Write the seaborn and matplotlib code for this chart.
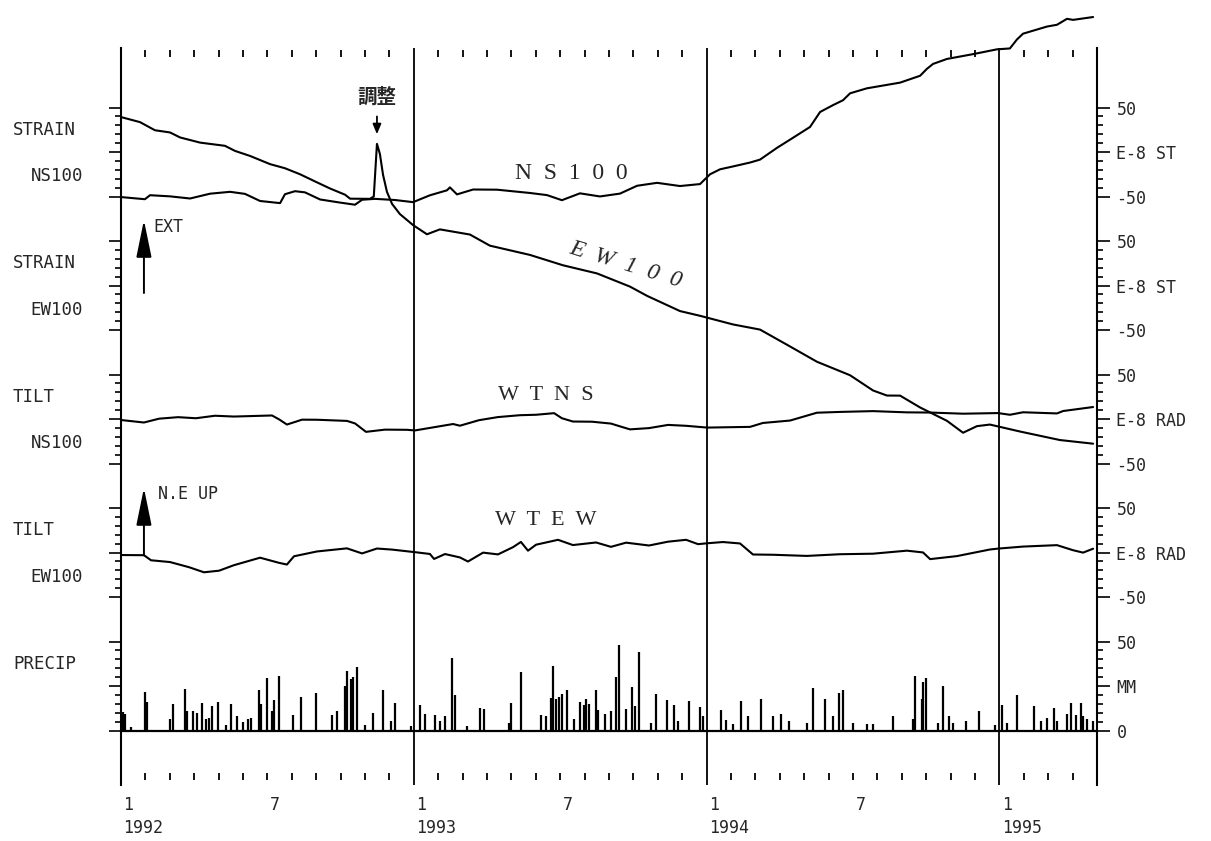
import numpy as np
import pandas as pd
import matplotlib
matplotlib.use("Agg")
import matplotlib.pyplot as plt
import seaborn as sns
from matplotlib.transforms import blended_transform_factory

# ---------------- data (months since 1992-01-01, values in E-8 / mm) ----------------
ns100_month = [0.00, 0.98, 1.19, 2.01, 2.83, 3.65, 4.47, 5.08, 5.70, 6.52, 6.72, 7.13, 7.54,
               8.16, 8.98, 9.59, 9.88, 10.41, 11.23, 11.97, 12.66, 13.36, 13.48, 13.77, 14.43,
               15.41, 16.76, 17.46, 18.07, 18.81, 19.63, 20.45, 21.15, 21.97, 22.91, 23.73,
               24.14, 24.55, 25.08, 25.78, 26.19, 26.89, 27.54, 28.24, 28.65, 29.18, 29.59,
               29.88, 30.57, 31.93, 32.75, 33.03, 33.28, 33.85, 34.92, 35.90, 36.43, 36.72,
               36.97, 37.95, 38.36, 38.77, 39.02, 39.84]
ns100_val = [-50.6, -53.0, -48.5, -49.8, -52.2, -46.8, -44.7, -47.0, -55.0, -57.4, -47.4, -44.0,
             -45.3, -53.3, -56.8, -59.2, -53.6, -52.6, -53.9, -56.3, -48.6, -43.0, -39.7, -47.6,
             -42.1, -42.3, -46.0, -48.4, -54.1, -46.4, -49.9, -46.7, -37.9, -34.6, -38.2, -36.0,
             -25.0, -19.4, -16.2, -11.8, -8.5, 4.8, 16.0, 28.2, 45.0, 52.7, 58.2, 66.0, 71.6,
             78.0, 85.7, 93.5, 99.0, 104.6, 110.0, 115.4, 116.4, 126.5, 133.0, 141.0, 143.0,
             149.7, 148.5, 151.7]

ew100_month = [0.00, 0.78, 1.39, 2.01, 2.42, 3.24, 4.26, 4.67, 5.29, 6.11, 6.72, 7.34, 7.95,
               8.57, 9.18, 9.39, 10.20, 10.36, 10.49, 10.61, 10.74, 10.90, 11.11, 11.43, 11.97,
               12.54, 13.07, 14.30, 15.12, 16.76, 18.11, 19.51, 20.86, 21.56, 22.91, 23.73,
               25.08, 26.19, 27.30, 28.52, 29.88, 30.82, 31.39, 31.93, 32.75, 33.85, 34.51,
               35.08, 35.61, 36.84, 38.48, 39.84]
ew100_val = [189.3, 183.6, 174.5, 172.0, 166.4, 160.6, 157.0, 151.3, 145.6, 136.4, 131.8, 125.0,
             117.0, 109.0, 102.1, 97.6, 97.4, 100.0, 159.2, 147.9, 124.3, 105.2, 91.7, 80.3,
             67.9, 57.6, 63.1, 57.3, 44.8, 34.4, 22.8, 13.6, -1.2, -11.6, -28.7, -34.0, -43.7,
             -49.5, -66.6, -85.6, -100.8, -117.9, -123.6, -123.7, -137.0, -152.0, -165.4,
             -158.0, -156.2, -164.0, -173.6, -177.7]

wtns_month = [0.00, 0.94, 1.56, 2.34, 3.07, 3.85, 4.63, 6.19, 6.48, 6.80, 7.42, 8.03, 9.26,
              9.59, 10.04, 10.82, 11.72, 12.05, 12.83, 13.61, 13.89, 14.67, 15.45, 16.35, 17.01,
              17.75, 18.07, 18.52, 19.30, 20.08, 20.53, 20.86, 21.64, 22.42, 23.16, 24.02,
              25.78, 26.31, 27.42, 28.52, 29.47, 30.82, 32.21, 33.16, 34.51, 35.94, 36.43,
              36.97, 38.36, 38.61, 39.84]
wtns_val = [-1.1, -3.9, 0.4, 2.1, 0.9, 3.7, 2.8, 4.0, -0.4, -6.2, -0.7, -0.8, -2.1, -4.9, -14.4,
            -11.9, -12.1, -12.8, -9.2, -5.6, -7.5, -1.3, 2.2, 4.3, 4.8, 6.6, 0.9, -2.8, -3.0,
            -5.1, -8.9, -11.6, -10.2, -6.6, -7.6, -9.6, -8.8, -4.4, -1.7, 7.1, 8.0, 8.9, 7.5,
            7.3, 6.0, 6.7, 4.8, 7.6, 6.3, 9.0, 13.5]

wtew_month = [0.00, 0.94, 1.23, 2.01, 2.79, 3.40, 4.02, 4.63, 5.70, 6.48, 6.80, 7.09, 8.03,
              9.26, 9.88, 10.49, 11.11, 12.05, 12.66, 12.83, 13.28, 13.89, 14.22, 14.84, 15.45,
              16.07, 16.39, 16.68, 17.01, 17.91, 18.52, 19.47, 20.08, 20.70, 21.64, 22.42,
              23.16, 23.65, 24.02, 24.67, 25.37, 25.90, 26.72, 28.11, 29.47, 30.82, 32.21,
              32.87, 33.16, 34.26, 35.61, 35.94, 36.97, 38.36, 39.02, 39.43, 39.84]
wtew_val = [-2.8, -3.0, -8.7, -10.7, -16.5, -22.2, -20.4, -14.2, -5.8, -11.6, -13.5, -4.2, 1.2,
            4.7, -1.0, 4.5, 3.3, 0.4, -1.6, -7.2, -1.7, -5.5, -10.1, -0.1, -2.1, 6.1, 11.9, 2.1,
            8.8, 14.3, 8.4, 11.3, 6.4, 11.1, 7.9, 12.2, 14.3, 9.4, 10.4, 11.8, 10.2, -2.2, -2.5,
            -3.8, -1.9, -1.3, 2.1, 0.1, -7.4, -4.0, 3.4, 4.4, 6.7, 8.3, 2.6, -0.1, 4.3]

precip_month = [0.08, 0.16, 0.40, 0.98, 1.07, 2.01, 2.13, 2.62, 2.70, 2.95, 3.11, 3.32, 3.48,
                3.61, 3.73, 3.98, 4.30, 4.51, 4.75, 5.00, 5.20, 5.33, 5.66, 5.74, 5.98, 6.19,
                6.27, 6.48, 7.05, 7.38, 7.99, 8.65, 8.85, 9.18, 9.26, 9.43, 9.51, 9.67, 10.00,
                10.33, 10.74, 11.07, 11.23, 11.89, 12.25, 12.46, 12.87, 13.07, 13.28, 13.57,
                13.69, 14.18, 14.71, 14.88, 15.90, 15.98, 16.39, 17.21, 17.42, 17.62, 17.70,
                17.83, 17.95, 18.07, 18.28, 18.57, 18.81, 18.98, 19.06, 19.18, 19.47, 19.55,
                19.84, 20.08, 20.29, 20.41, 20.70, 20.94, 21.07, 21.23, 21.72, 21.93, 22.38,
                22.66, 22.83, 23.28, 23.73, 23.85, 24.59, 24.80, 25.08, 25.41, 25.70, 26.23,
                26.72, 27.05, 27.38, 28.11, 28.36, 28.85, 29.18, 29.43, 29.59, 30.00, 30.57,
                30.82, 31.64, 32.46, 32.54, 32.83, 32.87, 32.99, 33.48, 33.69, 33.93, 34.10,
                34.63, 35.16, 35.82, 36.11, 36.31, 36.72, 37.42, 37.70, 37.95, 38.24, 38.36,
                38.77, 38.93, 39.14, 39.34, 39.43, 39.59, 39.84]
precip_mm = [10.3, 9.4, 2.0, 21.9, 15.9, 6.2, 15.0, 23.4, 11.2, 10.7, 9.9, 15.4, 6.2, 6.9, 14.0,
             15.9, 3.2, 15.0, 8.4, 4.7, 6.2, 6.9, 23.0, 15.0, 29.6, 11.2, 16.9, 30.5, 8.8, 18.7,
             21.2, 8.8, 11.2, 24.9, 33.7, 29.0, 30.0, 35.6, 3.2, 9.9, 22.5, 5.1, 15.5, 2.8,
             14.4, 9.4, 8.8, 5.1, 8.1, 40.6, 19.7, 2.8, 12.5, 12.2, 4.3, 15.4, 33.1, 8.8, 8.4,
             18.2, 36.1, 17.8, 18.7, 20.6, 22.5, 6.6, 16.3, 14.4, 17.8, 15.0, 22.5, 11.8, 9.4,
             10.9, 30.3, 48.0, 12.2, 24.3, 13.7, 44.0, 4.1, 20.6, 17.2, 14.6, 5.2, 16.5, 13.5,
             8.4, 11.6, 6.0, 3.7, 16.5, 8.4, 17.8, 7.9, 9.4, 5.2, 4.1, 23.8, 17.6, 8.1, 21.3,
             22.6, 4.1, 3.7, 3.4, 7.9, 6.7, 30.7, 17.6, 27.3, 29.6, 4.1, 25.2, 8.1, 4.1, 5.2,
             11.0, 3.0, 14.4, 4.3, 19.7, 13.7, 5.1, 7.0, 12.7, 5.1, 9.4, 15.4, 8.8, 15.4, 8.1,
             6.7, 5.6]

month_tick_labels = ["1", "7", "1", "7", "1", "7", "1"]
month_tick_pos = [0, 6, 12, 18, 24, 30, 36]
year_labels = ["1992", "1993", "1994", "1995"]
year_pos = [0, 12, 24, 36]

panel_left_top = ["STRAIN", "STRAIN", "TILT", "TILT", "PRECIP"]
panel_left_bottom = ["NS100", "EW100", "NS100", "EW100", ""]
panel_right_labels = [["50", "E-8 ST", "-50"], ["50", "E-8 ST", "-50"],
                      ["50", "E-8 RAD", "-50"], ["50", "E-8 RAD", "-50"],
                      ["50", "MM", "0"]]

# ---------------- layout ----------------
STEP = 150.0                       # vertical offset between panels (plot units)
centers = [0.0, -150.0, -300.0, -450.0, -600.0]
PRECIP_BASE = -650.0
PRECIP_SCALE = 2.0                 # plot units per mm

sns.set_theme(style="white")
plt.rcParams['font.family'] = ['DejaVu Sans Mono', 'Noto Sans CJK JP']
plt.rcParams['axes.edgecolor'] = 'black'

fig = plt.figure(figsize=(12.11, 8.41), dpi=100)
fig.patch.set_facecolor('white')
ax = fig.add_axes([121 / 1211, 56 / 841, 976 / 1211, 737 / 841])
ax.set_facecolor('white')

series = [
    (ns100_month, ns100_val, centers[0]),
    (ew100_month, ew100_val, centers[1]),
    (wtns_month, wtns_val, centers[2]),
    (wtew_month, wtew_val, centers[3]),
]
for mon, val, off in series:
    df = pd.DataFrame({"month": mon, "y": np.asarray(val) + off})
    sns.lineplot(data=df, x="month", y="y", ax=ax, color="black", linewidth=1.5,
                 estimator=None, sort=False, legend=False)
    ax.lines[-1].set_clip_on(False)

# precipitation impulses and baseline
pm = np.asarray(precip_month)
pv = np.asarray(precip_mm)
ax.hlines(PRECIP_BASE, 0, 40, color="black", linewidth=1.6, clip_on=False)
ax.vlines(pm, PRECIP_BASE, PRECIP_BASE + PRECIP_SCALE * pv, color="black", linewidth=1.6,
          clip_on=False)

ax.set_xlim(0, 40)
ax.set_ylim(-711.2, 116.9)

# year lines
for yp in year_pos[1:]:
    ax.axvline(yp, color="black", linewidth=1.3)

# spines
for s in ["top", "bottom"]:
    ax.spines[s].set_visible(False)
for s in ["left", "right"]:
    ax.spines[s].set_visible(True)
    ax.spines[s].set_linewidth(1.5)
    ax.spines[s].set_color("black")

# y ticks
majors, labels, minors = [], [], []
for c, labs in zip(centers, panel_right_labels):
    majors += [c + 50, c, c - 50]
    labels += labs
    minors += [c + 10 * k for k in (-4, -3, -2, -1, 1, 2, 3, 4)]
ax.set_yticks(majors)
ax.set_yticklabels(labels)
ax.set_yticks(minors, minor=True)
ax.tick_params(axis="y", which="both", left=True, right=True, labelleft=False,
               labelright=True, direction="out", color="black", width=1.2)
ax.tick_params(axis="y", which="major", length=9, pad=5, labelsize=12)
ax.tick_params(axis="y", which="minor", length=4)
ax.set_xticks([])
ax.set_xlabel("")
ax.set_ylabel("")

# monthly ticks (top and bottom)
xtr = ax.get_xaxis_transform()
mticks = [m for m in range(1, 40) if m % 12 != 0]
ax.vlines(mticks, 1 - 9 / 737, 1 - 2 / 737, transform=xtr, color="black", linewidth=1.3)
ax.vlines(mticks, 5 / 737, 12 / 737, transform=xtr, color="black", linewidth=1.3)

# bottom date labels
for pos, lab in zip(month_tick_pos, month_tick_labels):
    ax.text(pos + 0.1, -20 / 737, lab, transform=xtr, ha="left", va="center", fontsize=12)
for pos, lab in zip(year_pos, year_labels):
    ax.text(pos + 0.1, -43 / 737, lab, transform=xtr, ha="left", va="center", fontsize=12)

# left panel labels
lt = blended_transform_factory(fig.transFigure, ax.transData)
for c, top, bot in zip(centers, panel_left_top, panel_left_bottom):
    ax.text(13 / 1211, c + 25, top, transform=lt, ha="left", va="center", fontsize=12.5)
    if bot:
        ax.text(83 / 1211, c - 27, bot, transform=lt, ha="right", va="center", fontsize=12.5)

# curve names
serif = ["Liberation Serif", "DejaVu Serif"]
ax.text(18.44, -23.6, "N  S  1  0  0", family=serif, fontsize=17, ha="center", va="center")
ax.text(20.7, -126.5, "E  W  1  0  0", family=serif, style="italic", fontsize=17,
        ha="center", va="center", rotation=-17)
ax.text(17.4, -274, "W  T  N  S", family=serif, fontsize=16, ha="center", va="center")
ax.text(17.4, -413.5, "W  T  E  W", family=serif, fontsize=16, ha="center", va="center")

# annotations
ax.text(10.49, 62, "調整", family=["Noto Sans CJK JP", "DejaVu Sans"], fontweight="bold",
        fontsize=14, ha="center", va="center")
ax.annotate("", xy=(10.49, 20), xytext=(10.49, 40),
            arrowprops=dict(arrowstyle="-|>,head_length=0.6,head_width=0.25",
                            color="black", lw=1.3, mutation_scale=10, shrinkA=0, shrinkB=0))
ax.annotate("", xy=(0.94, -76.4), xytext=(0.94, -158.4),
            arrowprops=dict(arrowstyle="-|>,head_length=2.3,head_width=0.47",
                            color="black", lw=1.4, mutation_scale=10, shrinkA=0, shrinkB=0))
ax.text(1.32, -84, "EXT", fontsize=12, ha="left", va="center")
ax.annotate("", xy=(0.94, -377.5), xytext=(0.94, -453),
            arrowprops=dict(arrowstyle="-|>,head_length=2.3,head_width=0.47",
                            color="black", lw=1.4, mutation_scale=10, shrinkA=0, shrinkB=0))
ax.text(1.5, -384, "N.E UP", fontsize=12, ha="left", va="center")

fig.savefig("out.png", dpi=100, facecolor="white")
